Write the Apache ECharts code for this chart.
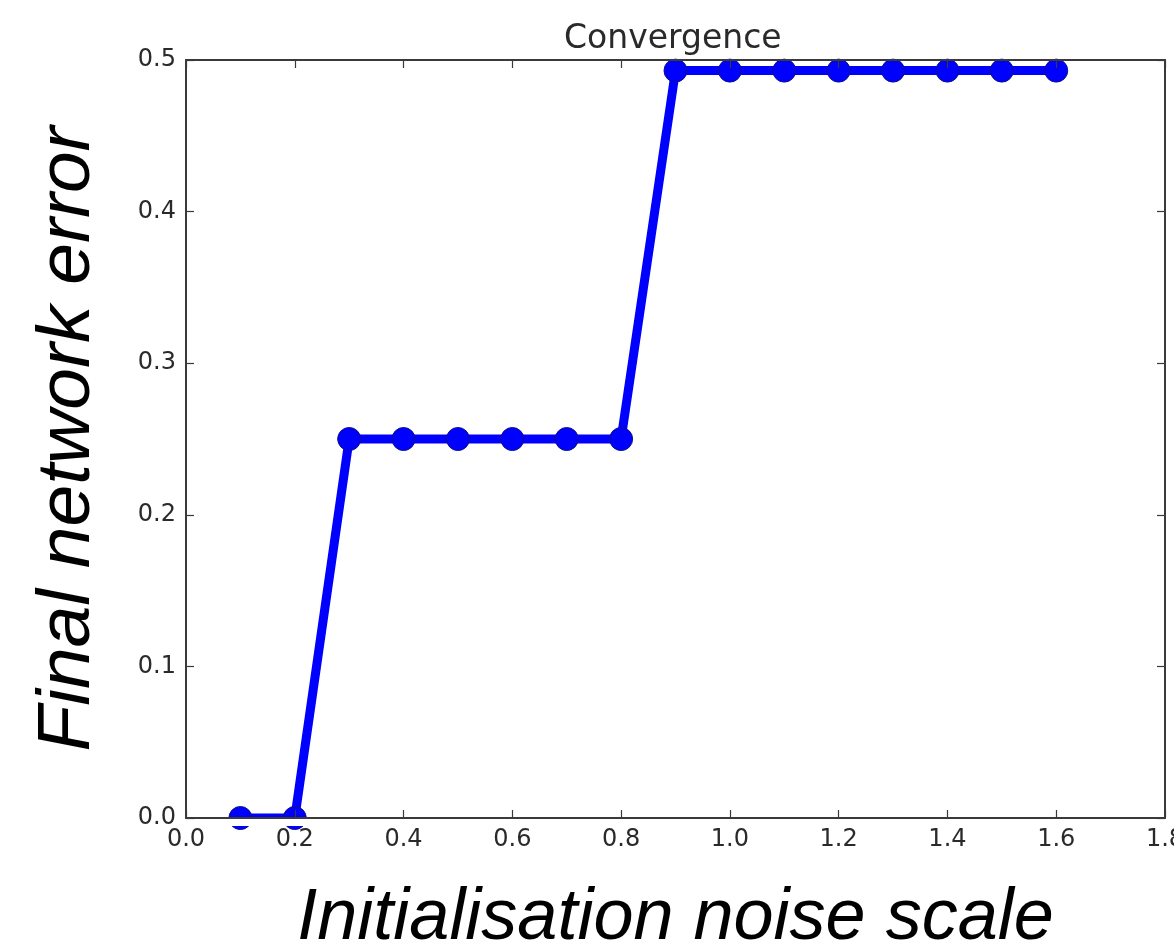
<!DOCTYPE html>
<html>
<head>
<meta charset="utf-8">
<script src="https://cdn.jsdelivr.net/npm/echarts@6/dist/echarts.min.js"></script>
<style>
  html, body { margin: 0; padding: 0; background: #fff; }
  #chart { width: 1174px; height: 949px; }
</style>
</head>
<body>
<div id="chart"></div>
<script>
// noise scale values (x) and final error (y)
var noiseScale = [0.1, 0.2, 0.3, 0.4, 0.5, 0.6, 0.7, 0.8, 0.9, 1.0, 1.1, 1.2, 1.3, 1.4, 1.5, 1.6];
var finalError = [0, 0, 0.25, 0.25, 0.25, 0.25, 0.25, 0.25, 0.493, 0.493, 0.493, 0.493, 0.493, 0.493, 0.493, 0.493];
var xTicks = { min: 0, max: 1.8, step: 0.2 };
var yTicks = { min: 0, max: 0.5, step: 0.1 };

var chart = echarts.init(document.getElementById("chart"));

var tickFont = {
  color: "#2a2a2a",
  fontFamily: "DejaVu Sans",
  fontSize: 24,
};
var spine = { onZero: false, lineStyle: { color: "#3a3a3a", width: 2 } };
var inTick = { show: true, inside: true, length: 8, lineStyle: { color: "#3a3a3a", width: 1.2 } };
var nameFont = function (size) {
  return {
    fontFamily: "Liberation Sans",
    fontStyle: "italic",
    fontSize: size,
    color: "#000",
  };
};
var fmt = function (v) { return v.toFixed(1); };

var points = noiseScale.map(function (x, i) {
  return [x, finalError[i]];
});

chart.setOption({
  animation: false,
  backgroundColor: "#fff",
  title: {
    text: "Convergence",
    left: 559,
    top: 18,
    textStyle: {
      fontFamily: "DejaVu Sans",
      fontSize: 33,
      fontWeight: "normal",
      color: "#2a2a2a",
    },
  },
  grid: { left: 186, top: 60, right: 9, bottom: 131, outerBoundsMode: "none", containLabel: false },
  xAxis: [
    {
      type: "value",
      min: xTicks.min,
      max: xTicks.max,
      interval: xTicks.step,
      z: 4,
      name: "Initialisation noise scale",
      nameLocation: "middle",
      nameGap: 65,
      nameTextStyle: nameFont(72),
      axisLine: spine,
      axisTick: inTick,
      splitLine: { show: false },
      axisLabel: Object.assign({ margin: 10, formatter: fmt }, tickFont),
    },
    {
      type: "value",
      position: "top",
      min: xTicks.min,
      max: xTicks.max,
      interval: xTicks.step,
      z: 4,
      axisLine: spine,
      axisTick: inTick,
      splitLine: { show: false },
      axisLabel: { show: false },
    },
  ],
  yAxis: [
    {
      type: "value",
      min: yTicks.min,
      max: yTicks.max,
      interval: yTicks.step,
      z: 4,
      name: "Final network error",
      nameLocation: "middle",
      nameGap: 80,
      nameTextStyle: nameFont(75),
      axisLine: Object.assign({ show: true }, spine),
      axisTick: inTick,
      splitLine: { show: false },
      axisLabel: Object.assign({ margin: 10, formatter: fmt }, tickFont),
    },
    {
      type: "value",
      position: "right",
      min: yTicks.min,
      max: yTicks.max,
      interval: yTicks.step,
      z: 4,
      axisLine: Object.assign({ show: true }, spine),
      axisTick: inTick,
      splitLine: { show: false },
      axisLabel: { show: false },
    },
  ],
  // white strip under the bottom spine so markers at y=0 look clipped
  graphic: [
    {
      type: "rect",
      z: 3,
      shape: { x: 150, y: 819, width: 1030, height: 7 },
      style: { fill: "#fff" },
    },
  ],
  series: [
    {
      type: "line",
      xAxisIndex: 0,
      yAxisIndex: 0,
      data: points,
      symbol: "circle",
      symbolSize: 23,
      showAllSymbol: true,
      lineStyle: { color: "#0000ff", width: 9 },
      itemStyle: { color: "#0000ff", borderColor: "#10108a", borderWidth: 1 },
      z: 2,
    },
  ],
});
</script>
</body>
</html>
